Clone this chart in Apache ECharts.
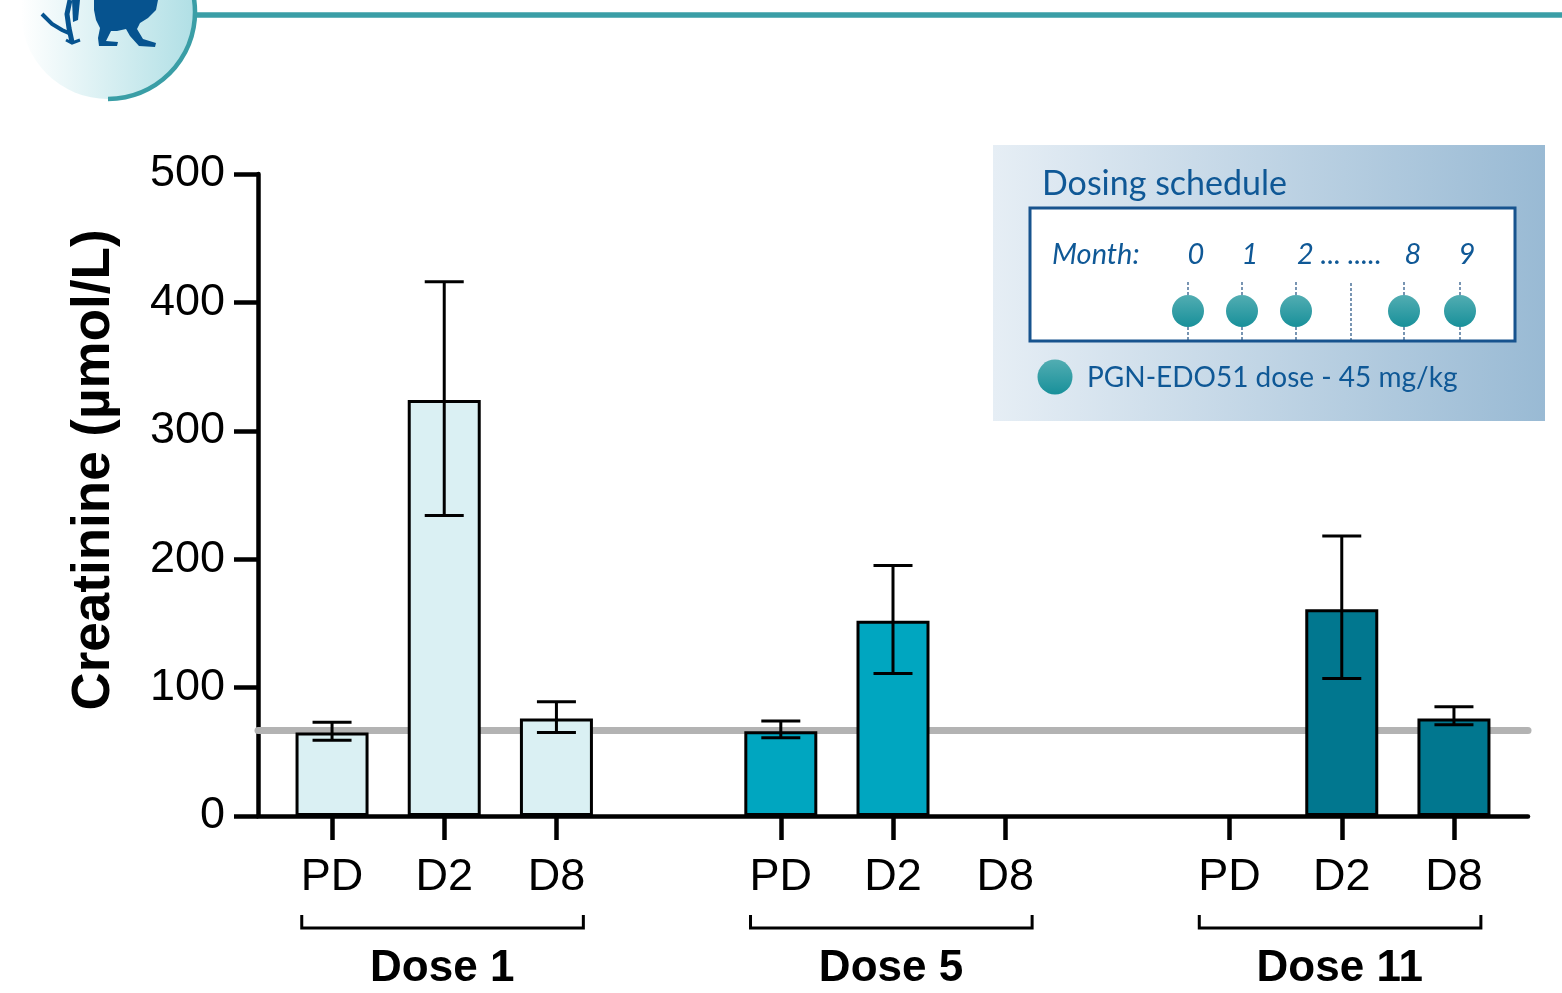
<!DOCTYPE html>
<html>
<head>
<meta charset="utf-8">
<script src="https://cdn.jsdelivr.net/npm/echarts@6/dist/echarts.min.js"></script>
<style>
  html, body { margin: 0; padding: 0; background: #ffffff; }
  #chart { width: 1562px; height: 993px; }
</style>
</head>
<body>
<div id="chart"></div>
<script>
// ---- data ----
// x slots: three sampling days per dose block, with an empty slot between blocks
const slotLabels = ['PD', 'D2', 'D8', '', 'PD', 'D2', 'D8', '', 'PD', 'D2', 'D8'];
const tickSlots = [0, 1, 2, 4, 5, 6, 8, 9, 10];
const groupNames = ['Dose 1', 'Dose 5', 'Dose 11'];
const groupFirstSlot = [0, 4, 8];
const groupLastSlot = [2, 6, 10];

const dose1Slots = [0, 1, 2];
const dose1Mean = [65, 324, 76];
const dose1Low = [59, 234, 65];
const dose1High = [73, 416, 89];

const dose5Slots = [4, 5];
const dose5Mean = [66, 152];
const dose5Low = [61, 111];
const dose5High = [74, 195];

const dose11Slots = [9, 10];
const dose11Mean = [161, 76];
const dose11Low = [107, 71];
const dose11High = [218, 85];

const normalLevel = 67;

const monthLabels = ['0', '1', '2 ... .....', '8', '9'];

// ---- helpers ----
const AXIS_FONT = "'Liberation Sans', Arial, sans-serif";
const BOX_FONT = "Lato, 'Open Sans', sans-serif";
const BOX_BLUE = '#0f5896';

function barData(slots, means) {
  return slots.map((s, i) => [s, means[i]]);
}
function errData(slots, lows, highs) {
  return slots.map((s, i) => [s, lows[i], highs[i]]);
}

const errorBars = [].concat(
  errData(dose1Slots, dose1Low, dose1High),
  errData(dose5Slots, dose5Low, dose5High),
  errData(dose11Slots, dose11Low, dose11High)
);

const groups = groupNames.map((n, i) => [groupFirstSlot[i], groupLastSlot[i]]);

function renderError(params, api) {
  const x = api.value(0);
  const lo = api.coord([x, api.value(1)]);
  const hi = api.coord([x, api.value(2)]);
  const cap = 19.5;
  const st = { stroke: '#000', lineWidth: 3 };
  return {
    type: 'group',
    children: [
      { type: 'line', shape: { x1: lo[0], y1: lo[1], x2: hi[0], y2: hi[1] }, style: st },
      { type: 'line', shape: { x1: lo[0] - cap, y1: lo[1], x2: lo[0] + cap, y2: lo[1] }, style: st },
      { type: 'line', shape: { x1: hi[0] - cap, y1: hi[1], x2: hi[0] + cap, y2: hi[1] }, style: st }
    ]
  };
}

function renderGroup(params, api) {
  const a = api.coord([api.value(0) - 0.27, 0]);
  const b = api.coord([api.value(1) + 0.24, 0]);
  const c = api.coord([(api.value(0) + api.value(1)) / 2, 0]);
  const yb = a[1] + 112;
  return {
    type: 'group',
    children: [
      {
        type: 'polyline',
        shape: { points: [[a[0], yb - 13], [a[0], yb], [b[0], yb], [b[0], yb - 13]] },
        style: { stroke: '#000', lineWidth: 3, fill: null }
      },
      {
        type: 'text',
        style: {
          x: c[0] - 2, y: yb + 41, text: groupNames[params.dataIndex],
          font: "bold 44px " + AXIS_FONT, fill: '#000',
          align: 'center', verticalAlign: 'middle'
        }
      }
    ]
  };
}

// ---- decorations: header badge, axis title, dosing schedule panel ----
const tealGrad = new echarts.graphic.LinearGradient(0, 0, 0, 1, [
  { offset: 0, color: '#52adb2' },
  { offset: 1, color: '#18909a' }
]);

const monthX = [1196, 1250, 1297, 1413, 1467];
const doseX = [1188, 1242, 1296, 1404, 1460];

const graphics = [
  // header badge
  {
    type: 'circle', shape: { cx: 108, cy: 12, r: 87 },
    style: { fill: new echarts.graphic.LinearGradient(0, 0, 1, 0, [
      { offset: 0, color: '#ffffff' }, { offset: 1, color: '#b0dfe5' }]) }
  },
  {
    type: 'arc', shape: { cx: 108, cy: 12, r: 87, startAngle: -0.2, endAngle: Math.PI / 2 },
    style: { stroke: '#3a9ea6', lineWidth: 4.5, fill: null }
  },
  { type: 'line', shape: { x1: 194, y1: 15, x2: 1562, y2: 15 }, style: { stroke: '#3a9ea6', lineWidth: 5.5 } },
  {
    type: 'polygon',
    shape: { points: [[94, 0], [158, 0], [156, 10], [148, 18], [140, 23], [137, 29], [143, 39], [156, 43],
      [155, 47], [139, 46], [130, 36], [126, 29], [117, 31], [111, 31], [106, 41], [118, 42], [117, 46],
      [99, 46], [98, 38], [100, 28], [96, 20], [94, 10]] },
    style: { fill: '#06538f' }
  },
  {
    type: 'polyline', shape: { points: [[70, 0], [67, 14], [69, 28], [72, 42]] },
    style: { stroke: '#06538f', lineWidth: 5, fill: null }
  },
  {
    type: 'polyline', shape: { points: [[42, 14], [52, 24], [62, 30], [71, 34]] },
    style: { stroke: '#06538f', lineWidth: 4, fill: null }
  },
  {
    type: 'polyline', shape: { points: [[66, 40], [72, 43], [80, 40]] },
    style: { stroke: '#06538f', lineWidth: 3, fill: null }
  },
  {
    type: 'polygon', shape: { points: [[72, 0], [80, 0], [78, 20], [73, 22]] },
    style: { fill: '#06538f' }
  },

  // y axis title
  {
    type: 'text', x: 94, y: 470, rotation: Math.PI / 2,
    style: {
      text: 'Creatinine (µmol/L)', font: "bold 53px " + AXIS_FONT, fill: '#000',
      align: 'center', verticalAlign: 'middle'
    }
  },

  // dosing schedule panel
  {
    type: 'rect', shape: { x: 993, y: 145, width: 552, height: 276 },
    style: { fill: new echarts.graphic.LinearGradient(0, 0, 1, 0, [
      { offset: 0, color: '#e6eef5' }, { offset: 1, color: '#99bad4' }]) }
  },
  {
    type: 'text', x: 1042, y: 184,
    style: { text: 'Dosing schedule', font: "34px " + BOX_FONT, fill: BOX_BLUE, verticalAlign: 'middle' }
  },
  {
    type: 'rect', shape: { x: 1030, y: 208, width: 485, height: 133 },
    style: { fill: '#ffffff', stroke: '#17538e', lineWidth: 3 }
  },
  {
    type: 'text', x: 1052, y: 255,
    style: { text: 'Month:', font: "italic 29px " + BOX_FONT, fill: BOX_BLUE, verticalAlign: 'middle' }
  }
];

monthLabels.forEach((m, i) => {
  graphics.push({
    type: 'text', x: monthX[i], y: 255,
    style: { text: m, font: "italic 29px " + BOX_FONT, fill: BOX_BLUE,
      align: i === 2 ? 'left' : 'center', verticalAlign: 'middle' }
  });
});
graphics.push({
  type: 'line', shape: { x1: 1351, y1: 283, x2: 1351, y2: 340 },
  style: { stroke: '#1f4f80', lineWidth: 1.2, lineDash: [3, 2] }
});
doseX.forEach((x) => {
  graphics.push({
    type: 'line', shape: { x1: x, y1: 282, x2: x, y2: 340 },
    style: { stroke: '#1f4f80', lineWidth: 1.2, lineDash: [3, 2] }
  });
});
doseX.forEach((x) => {
  graphics.push({ type: 'circle', shape: { cx: x, cy: 311, r: 16 }, style: { fill: tealGrad } });
});
graphics.push({ type: 'circle', shape: { cx: 1055, cy: 377, r: 17.5 }, style: { fill: tealGrad } });
graphics.push({
  type: 'text', x: 1087, y: 378,
  style: { text: 'PGN-EDO51 dose - 45 mg/kg', font: "28px " + BOX_FONT, fill: BOX_BLUE, verticalAlign: 'middle' }
});

// ---- chart ----
const chart = echarts.init(document.getElementById('chart'), null, { renderer: 'canvas' });

const barCommon = {
  type: 'bar',
  barWidth: 73,
  barGap: '-100%',
  z: 6,
  itemStyle: { borderColor: '#000', borderWidth: 3 }
};

chart.setOption({
  animation: false,
  backgroundColor: '#ffffff',
  grid: { left: 258, right: 34, top: 174, bottom: 177, containLabel: false },
  xAxis: {
    type: 'value',
    min: -0.66,
    max: 10.66,
    splitLine: { show: false },
    axisLine: { show: true, onZero: false, lineStyle: { color: '#000', width: 4.5 } },
    axisTick: {
      show: true, length: 24, inside: false, customValues: tickSlots,
      lineStyle: { color: '#000', width: 4.5 }
    },
    axisLabel: {
      show: true, customValues: tickSlots, margin: 39,
      formatter: (v) => slotLabels[Math.round(v)],
      fontSize: 45, fontFamily: AXIS_FONT, color: '#000'
    }
  },
  yAxis: {
    type: 'value',
    min: 0, max: 500, interval: 100,
    splitLine: { show: false },
    axisLine: { show: true, onZero: false, lineStyle: { color: '#000', width: 4.5 } },
    axisTick: { show: true, length: 24, lineStyle: { color: '#000', width: 4.5 } },
    axisLabel: { margin: 33, fontSize: 45, fontFamily: AXIS_FONT, color: '#000', padding: [12, 0, 0, 0] }
  },
  graphic: graphics,
  series: [
    {
      type: 'line',
      data: [],
      z: 1,
      silent: true,
      markLine: {
        z: 1,
        silent: true,
        symbol: ['none', 'none'],
        label: { show: false },
        lineStyle: { color: '#b3b3b3', width: 7, type: 'solid', cap: 'round' },
        data: [{ yAxis: normalLevel }]
      }
    },
    Object.assign({}, barCommon, {
      name: 'Dose 1', data: barData(dose1Slots, dose1Mean),
      itemStyle: { color: '#daf0f3', borderColor: '#000', borderWidth: 3 }
    }),
    Object.assign({}, barCommon, {
      name: 'Dose 5', data: barData(dose5Slots, dose5Mean),
      itemStyle: { color: '#00a6c0', borderColor: '#000', borderWidth: 3 }
    }),
    Object.assign({}, barCommon, {
      name: 'Dose 11', data: barData(dose11Slots, dose11Mean),
      itemStyle: { color: '#01778f', borderColor: '#000', borderWidth: 3 }
    }),
    {
      type: 'custom',
      name: 'error',
      z: 8,
      renderItem: renderError,
      data: errorBars,
      encode: { x: 0, y: [1, 2] }
    },
    {
      type: 'custom',
      name: 'groups',
      z: 8,
      clip: false,
      renderItem: renderGroup,
      data: groups,
      encode: { x: [0, 1] }
    }
  ]
});
</script>
</body>
</html>
